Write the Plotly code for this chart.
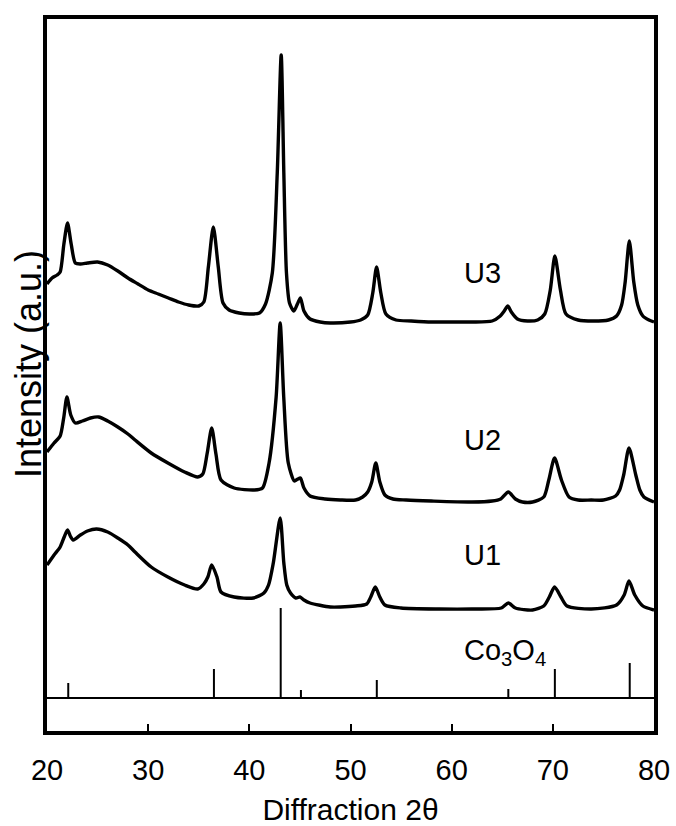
import plotly.graph_objects as go

# ---- data (2θ in degrees, intensity in arbitrary units, offsets included) ----
u3_x = [20.0, 20.5, 21.0, 21.3, 21.67, 22.03, 22.39, 22.8, 23.3, 24.0, 25.0, 26.0, 27.0, 28.0, 29.0,
        30.0, 31.0, 32.0, 33.0, 34.0, 35.0, 35.5, 35.95, 36.44, 36.93, 37.4, 38.0, 39.0, 40.0, 41.0,
        41.6, 42.27, 42.76, 43.15, 43.41, 43.67, 43.97, 44.4, 44.75, 45.05, 45.4, 46.0, 47.0, 48.0,
        50.0, 51.0, 51.7, 52.2, 52.58, 53.0, 53.5, 54.5, 56.0, 58.0, 60.0, 62.0, 64.0, 64.8, 65.2,
        65.55, 65.9, 66.5, 67.5, 68.5, 69.2, 69.75, 70.2, 70.75, 71.3, 72.5, 74.0, 75.5, 76.3, 76.8,
        77.15, 77.56, 78.0, 78.4, 78.9, 79.5, 80.0]
u3_y = [414, 420, 423, 426, 454, 475, 454, 435, 434, 435, 436, 433, 427, 420, 414,
        408, 404, 400, 396, 393, 392, 396, 431, 471, 431, 395, 388, 385, 384, 385,
        394, 425, 525, 643, 525, 425, 395, 387, 394, 400, 387, 379, 376, 375,
        376, 378, 383, 405, 431, 405, 384, 378, 377, 376, 376, 376, 377, 382, 387,
        392, 386, 379, 377, 378, 384, 408, 442, 408, 384, 378, 377, 378, 382, 393,
        416, 457, 416, 393, 382, 378, 376]

u2_x = [20.0, 20.15, 20.7, 21.3, 21.65, 21.97, 22.35, 22.8, 23.5, 24.3, 25.1, 26.0, 27.0, 28.0, 28.7,
        30.3, 31.95, 33.6, 34.9, 35.4, 35.82, 36.28, 36.7, 37.2, 38.5, 40.5, 41.3, 41.95, 42.65, 43.05,
        43.4, 43.85, 44.45, 44.8, 45.05, 45.4, 46.0, 47.5, 49.0, 50.5, 51.2, 51.7, 52.1, 52.5, 52.9,
        53.4, 54.2, 55.5, 58.0, 62.0, 64.0, 64.85, 65.6, 66.3, 67.0, 68.0, 69.1, 69.6, 70.17, 70.85,
        71.6, 72.5, 73.8, 75.0, 76.2, 76.6, 77.0, 77.53, 78.2, 78.6, 79.0, 80.0]
u2_y = [246, 248, 255, 262, 280, 301, 283, 275, 277, 280, 281, 277, 271, 264, 258,
        245, 235, 226, 221, 224, 244, 270, 244, 218, 210, 208, 210, 235, 301, 375,
        301, 235, 217, 219, 220, 210, 202, 199, 198, 198, 201, 206, 216, 235, 216,
        203, 199, 198, 197, 196, 197, 199, 206, 199, 196, 196, 201, 218, 240, 218,
        201, 198, 198, 198, 202, 208, 223, 250, 223, 208, 201, 196]

u1_x = [20.0, 20.15, 20.7, 21.3, 21.7, 22.03, 22.3, 22.6, 23.3, 24.0, 24.9, 26.0, 27.0, 28.0, 28.7,
        30.3, 31.95, 33.6, 34.9, 35.5, 35.9, 36.28, 36.8, 37.2, 38.5, 40.4, 41.44, 41.9, 42.37, 43.05,
        43.41, 43.7, 44.07, 44.6, 45.0, 45.4, 46.0, 48.0, 49.0, 50.5, 51.6, 52.0, 52.45, 52.9, 53.4,
        55.0, 58.8, 62.0, 64.9, 65.6, 66.3, 68.0, 69.1, 69.65, 70.17, 70.8, 71.4, 73.8, 76.3, 77.05,
        77.53, 78.1, 78.9, 80.0]
u1_y = [133, 135, 143, 151, 161, 168, 162, 158, 163, 167, 169, 166, 160, 153, 146,
        131, 121, 113, 109, 114, 121, 133, 121, 106, 101, 100, 105, 113, 135, 180,
        135, 113, 105, 100, 101, 98, 95, 91, 91, 92, 94, 101, 111, 101, 93,
        90, 89, 89, 90, 95, 90, 88, 92, 101, 111, 101, 92, 89, 93, 103,
        117, 103, 92, 88]

ref_pos = [22.1, 36.5, 43.1, 45.1, 52.6, 65.6, 70.2, 77.6]
ref_int = [15, 29, 90, 8, 18, 9, 29, 35]

labels = ["U3", "U2", "U1", "Co<sub>3</sub>O<sub>4</sub>"]
label_y = [425, 258, 143, 46]
label_x = 61.0

x_ticks = [20, 30, 40, 50, 60, 70, 80]

FONT = "Liberation Sans, Arial, Helvetica, sans-serif"

fig = go.Figure()

for xs, ys, name in [(u3_x, u3_y, "U3"), (u2_x, u2_y, "U2"), (u1_x, u1_y, "U1")]:
    fig.add_trace(go.Scatter(x=xs, y=ys, mode="lines", name=name,
                             line=dict(color="black", width=3.4, shape="spline", smoothing=0.7),
                             showlegend=False))

# reference stick pattern
sx, sy = [], []
for p, h in zip(ref_pos, ref_int):
    sx += [p, p, None]
    sy += [0, h, None]
fig.add_trace(go.Scatter(x=sx, y=sy, mode="lines", name="Co3O4",
                         line=dict(color="black", width=2), showlegend=False))

for t, yv in zip(labels, label_y):
    fig.add_annotation(x=label_x, y=yv, text=t, showarrow=False, xanchor="left", yanchor="middle",
                       font=dict(family=FONT, size=29, color="black"))

fig.add_annotation(xref="paper", yref="paper", x=-0.03, y=0.515, text="Intensity (a.u.)",
                   textangle=-90, showarrow=False, xanchor="center", yanchor="middle",
                   font=dict(family=FONT, size=36, color="black"))

fig.update_layout(
    width=676, height=826,
    margin=dict(l=47, r=22, t=19, b=95, autoexpand=False),
    paper_bgcolor="white", plot_bgcolor="white",
    font=dict(family=FONT, color="black"),
    xaxis=dict(range=[20, 80], tickvals=x_ticks, ticktext=[str(v) for v in x_ticks],
               ticks="inside", ticklen=7, tickwidth=2, tickcolor="black",
               showline=True, linewidth=4, linecolor="black", mirror=True,
               showgrid=False, zeroline=False, automargin=False,
               tickfont=dict(family=FONT, size=29, color="black"),
               ticklabelstandoff=10,
               title=dict(text="Diffraction 2θ", font=dict(family=FONT, size=30, color="black"),
                          standoff=28)),
    yaxis=dict(range=[-33, 679], showticklabels=False, ticks="", automargin=False,
               showline=True, linewidth=4, linecolor="black", mirror=True,
               showgrid=False, zeroline=True, zerolinewidth=2, zerolinecolor="black"),
)

fig.write_html("out.html")
